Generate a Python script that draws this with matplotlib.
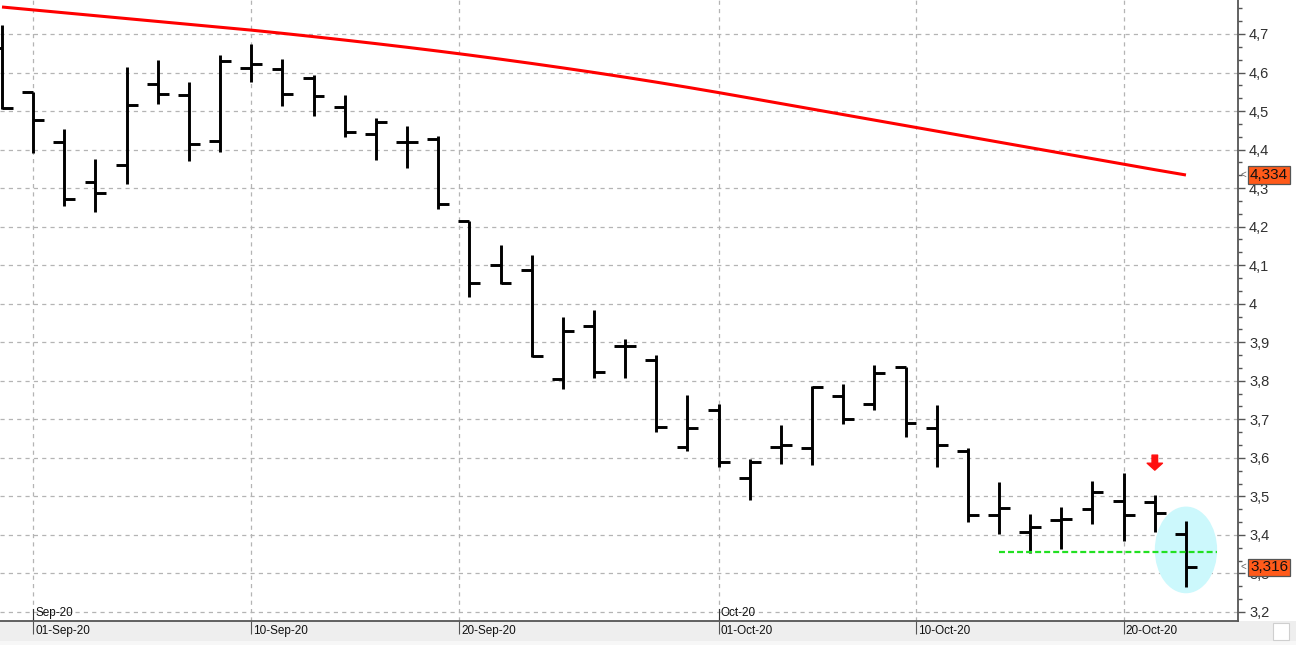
import numpy as np
import pandas as pd
import matplotlib
matplotlib.use("Agg")
import matplotlib.pyplot as plt
from matplotlib.patches import Ellipse, Rectangle
from matplotlib.ticker import MultipleLocator, FuncFormatter
import matplotlib.transforms as mtrans

plt.rcParams['font.family'] = ['Liberation Sans', 'DejaVu Sans']
plt.rcParams['lines.scale_dashes'] = False

# daily bars, 31-Aug-20 .. 22-Oct-20
dates = pd.bdate_range('2020-08-31', '2020-10-22')
opens = [4.664, 4.550, 4.419, 4.315, 4.359, 4.569, 4.541, 4.421, 4.611, 4.608,
         4.585, 4.511, 4.440, 4.419, 4.427, 4.215, 4.100, 4.087, 3.804, 3.942,
         3.890, 3.853, 3.627, 3.723, 3.547, 3.629, 3.625, 3.760, 3.740, 3.837,
         3.677, 3.618, 3.452, 3.407, 3.438, 3.467, 3.487, 3.485, 3.402]
highs = [4.723, 4.550, 4.453, 4.375, 4.614, 4.632, 4.575, 4.645, 4.674, 4.634,
         4.593, 4.541, 4.481, 4.460, 4.434, 4.215, 4.152, 4.126, 3.965, 3.983,
         3.908, 3.866, 3.763, 3.740, 3.596, 3.684, 3.787, 3.791, 3.840, 3.837,
         3.736, 3.625, 3.538, 3.453, 3.473, 3.541, 3.560, 3.504, 3.436]
lows = [4.505, 4.390, 4.254, 4.237, 4.310, 4.519, 4.371, 4.395, 4.576, 4.514,
        4.488, 4.433, 4.374, 4.353, 4.247, 4.018, 4.050, 3.862, 3.779, 3.808,
        3.808, 3.668, 3.617, 3.577, 3.491, 3.584, 3.581, 3.689, 3.724, 3.655,
        3.577, 3.434, 3.402, 3.354, 3.363, 3.428, 3.385, 3.408, 3.266]
closes = [4.508, 4.477, 4.271, 4.287, 4.515, 4.543, 4.414, 4.629, 4.621, 4.543,
          4.538, 4.445, 4.471, 4.419, 4.259, 4.053, 4.053, 3.864, 3.928, 3.824,
          3.890, 3.681, 3.677, 3.590, 3.588, 3.634, 3.785, 3.702, 3.819, 3.690,
          3.632, 3.452, 3.469, 3.420, 3.440, 3.511, 3.452, 3.457, 3.316]
# long moving average (red)
ma = [4.7700, 4.7625, 4.7550, 4.7475, 4.7400, 4.7325, 4.7250, 4.7175, 4.7100, 4.7017,
      4.6931, 4.6842, 4.6750, 4.6655, 4.6556, 4.6453, 4.6346, 4.6235, 4.6120, 4.6001,
      4.5878, 4.5750, 4.5617, 4.5479, 4.5337, 4.5194, 4.5051, 4.4908, 4.4765, 4.4622,
      4.4479, 4.4336, 4.4193, 4.4050, 4.3907, 4.3764, 4.3621, 4.3478, 4.3340]
ma_last = 4.334
support = 3.355
tick_dates = ['2020-09-01', '2020-09-10', '2020-09-20', '2020-10-01', '2020-10-10', '2020-10-20']
tick_labels = ['01-Sep-20', '10-Sep-20', '20-Sep-20', '01-Oct-20', '10-Oct-20', '20-Oct-20']
month_dates = ['2020-09-01', '2020-10-01']
month_labels = ['Sep-20', 'Oct-20']

x = np.arange(len(dates))
ordn = np.array([d.toordinal() for d in dates])


def date_pos(s):
    return np.interp(pd.Timestamp(s).toordinal(), ordn, x)


W, H = 1296, 645
fig = plt.figure(figsize=(W / 100, H / 100), dpi=100)
fig.patch.set_facecolor('white')
ax = fig.add_axes([0, 24 / H, 1238 / W, 621 / H])

# bottom strip
fig.add_artist(Rectangle((0, 4 / H), 1, 20 / H, transform=fig.transFigure,
                         facecolor='#EEEEEE', edgecolor='none', zorder=-1))
fig.add_artist(Rectangle((0, 0), 1, 4 / H, transform=fig.transFigure,
                         facecolor='#F7F7F7', edgecolor='none', zorder=-1))
fig.add_artist(Rectangle((1273 / W, 5 / H), 16 / W, 17 / H, transform=fig.transFigure,
                         facecolor='white', edgecolor='#CFCFCF', lw=0.8, zorder=-1))

ax.set_xlim(-0.064, 39.67)
ax.set_ylim(3.1765, 4.7882)

# highlight ellipse and support line
ax.add_patch(Ellipse((x[-1], 3.361), 2.0, 0.225, facecolor='#CCF8FC', edgecolor='none', zorder=1))

# OHLC bars
tw = 0.35
ax.vlines(x, lows, highs, color='black', lw=2.1, zorder=3, capstyle='butt')
ax.hlines(opens, x - tw, x, color='black', lw=2.1, zorder=3)
ax.hlines(closes, x, x + tw, color='black', lw=2.1, zorder=3)

ax.plot(x, ma, color='#FF0000', lw=2.2, zorder=4, solid_capstyle='butt')
ax.hlines(support, 32, 38.98, color='#22E022', lw=1.6, linestyles=(0, (4.3, 2.2)), zorder=5)

# red down arrow
ax.annotate('', xy=(37, 3.568), xytext=(37, 3.607),
            arrowprops=dict(arrowstyle='simple,head_length=0.5,head_width=1.1,tail_width=0.4',
                            color='#FF1010', shrinkA=0, shrinkB=0), zorder=5)

# axes style
for s in ['left', 'top']:
    ax.spines[s].set_visible(False)
for s in ['right', 'bottom']:
    ax.spines[s].set_color('#555555')
    ax.spines[s].set_linewidth(1.3)

ax.yaxis.tick_right()
ax.yaxis.set_major_locator(MultipleLocator(0.1))
ax.yaxis.set_minor_locator(MultipleLocator(0.1 / 3))
ax.yaxis.set_major_formatter(FuncFormatter(lambda v, p: f"{v:.1f}".replace('.', ',').replace(',0', '')))
ax.tick_params(axis='y', which='major', length=5, width=1, color='#555555', pad=3,
               labelsize=10.5, labelcolor='#303030')
ax.tick_params(axis='y', which='minor', length=3, width=1, color='#555555')

tpos = [date_pos(d) for d in tick_dates]
ax.set_xticks(tpos)
ax.set_xticklabels([])
ax.tick_params(axis='x', which='major', length=9, width=0.8, color='#555555', direction='out')

ax.grid(True, axis='both', which='major', color='#B4B4B4', lw=0.9, linestyle=(0, (3, 3)))
ax.set_axisbelow(True)

blend = mtrans.blended_transform_factory(ax.transData, ax.transAxes)
for p, lab in zip(tpos, tick_labels):
    ax.text(p + 0.07, -10 / 621, lab, transform=blend, ha='left', va='center',
            fontsize=8.5, color='#111111', clip_on=False)
for d, lab in zip(month_dates, month_labels):
    p = date_pos(d)
    ax.plot([p, p], [0, 12 / 621], transform=blend, color='#333333', lw=0.8)
    ax.text(p + 0.07, 8 / 621, lab, transform=blend, ha='left', va='center',
            fontsize=8.5, color='#111111')

# last value tags on the price axis
blend_y = mtrans.blended_transform_factory(ax.transAxes, ax.transData)
for val in [ma_last, closes[-1]]:
    ax.text(1 + 12 / 1238, val, f"{val:.3f}".replace('.', ','), transform=blend_y,
            ha='left', va='center', fontsize=11, color='#111111', clip_on=False, zorder=10,
            bbox=dict(boxstyle='square,pad=0.1', facecolor='#FF5A1A', edgecolor='#555555', lw=0.9))
    ax.text(1 + 5 / 1238, val, '<', transform=blend_y, ha='center', va='center',
            fontsize=7, color='#666666', clip_on=False, zorder=10)

fig.savefig('out.png', dpi=100)
